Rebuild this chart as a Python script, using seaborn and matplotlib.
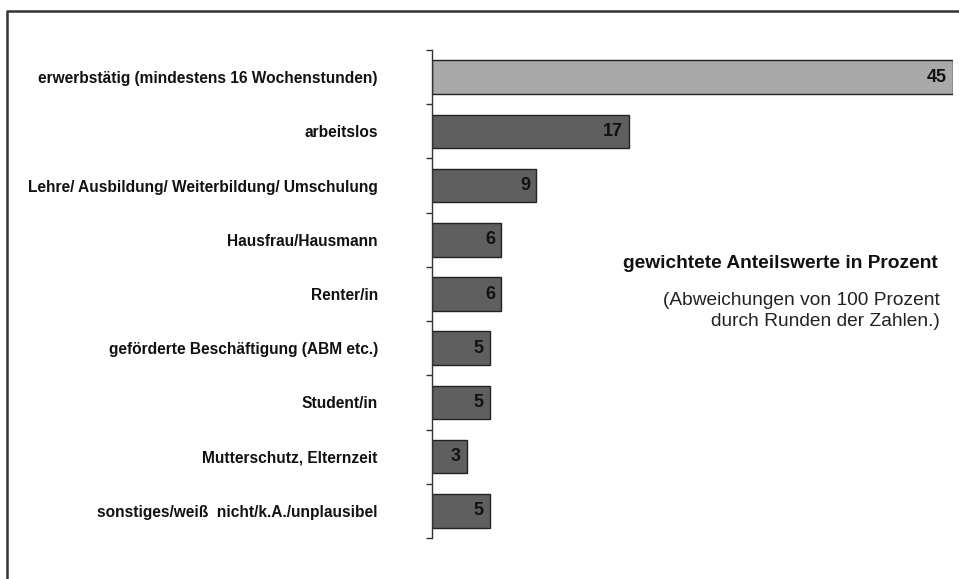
import matplotlib
matplotlib.use("Agg")
import matplotlib.pyplot as plt
import seaborn as sns
import pandas as pd
from matplotlib.lines import Line2D
from matplotlib.ticker import FixedLocator, NullFormatter

categories = [
    "erwerbstätig (mindestens 16 Wochenstunden)",
    "arbeitslos",
    "Lehre/ Ausbildung/ Weiterbildung/ Umschulung",
    "Hausfrau/Hausmann",
    "Renter/in",
    "geförderte Beschäftigung (ABM etc.)",
    "Student/in",
    "Mutterschutz, Elternzeit",
    "sonstiges/weiß  nicht/k.A./unplausibel",
]
values = [45, 17, 9, 6, 6, 5, 5, 3, 5]
bar_colors = ["#a9a9a9"] + ["#5f5f5f"] * 8

title_text = "gewichtete Anteilswerte in Prozent"
note_text = "(Abweichungen von 100 Prozent\ndurch Runden der Zahlen.)"

sns.set_theme(style="white")
plt.rcParams["font.family"] = ["Liberation Sans", "DejaVu Sans"]

df = pd.DataFrame({"cat": categories, "val": values})

fig = plt.figure(figsize=(9.59, 5.79), dpi=100)
ax = fig.add_axes([432 / 959, 1 - 538 / 579, 521 / 959, 488 / 579])

sns.barplot(data=df, y="cat", x="val", hue="cat", palette=bar_colors,
            legend=False, orient="h", width=0.62, ax=ax,
            edgecolor="#222222", linewidth=1.0, saturation=1)

ax.set_xlim(0, 45)
ax.set_ylim(len(categories) - 0.5, -0.5)
ax.set_xlabel("")
ax.set_ylabel("")
ax.xaxis.set_visible(False)
for s in ["top", "right", "bottom"]:
    ax.spines[s].set_visible(False)
ax.spines["left"].set_color("#333333")
ax.spines["left"].set_linewidth(1.0)

ax.tick_params(axis="y", which="major", left=False, length=0, pad=39)
ax.yaxis.set_minor_locator(FixedLocator([i - 0.5 for i in range(len(categories) + 1)]))
ax.yaxis.set_minor_formatter(NullFormatter())
ax.tick_params(axis="y", which="minor", left=True, length=4, width=1,
               color="#333333", direction="out")
for lab in ax.get_yticklabels():
    lab.set_fontweight("bold")
    lab.set_fontsize(11.2)
    lab.set_color("#111111")

for i, v in enumerate(values):
    ax.annotate(str(v), xy=(v, i), xytext=(-4.5, 0), textcoords="offset points",
                ha="right", va="center", fontsize=13, fontweight="bold", color="#111111")

fig.text(938 / 959, 1 - 263 / 579, title_text, ha="right", va="center",
         fontsize=13.8, fontweight="bold", color="#111111")
fig.text(940 / 959, 1 - 311 / 579, note_text, ha="right", va="center",
         fontsize=13.8, color="#222222", linespacing=1.3)

frame = Line2D([7 / 959, 7 / 959, 1.0], [0.0, 1 - 11 / 579, 1 - 11 / 579],
               transform=fig.transFigure, color="#333333", linewidth=1.8)
fig.add_artist(frame)

fig.savefig("out.png", dpi=100)
